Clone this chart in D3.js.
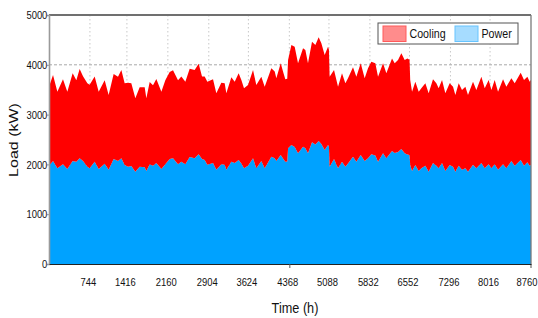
<!DOCTYPE html>
<html><head><meta charset="utf-8">
<script src="https://cdn.jsdelivr.net/npm/d3@7"></script>
<style>
html,body{margin:0;padding:0;background:#fff;}
svg{display:block;}
</style></head>
<body><svg id="chart" width="538" height="318"></svg>
<script>
// hour of year for each sample
const hours = [0,73,152,254,333,430,497,557,618,697,739,830,903,1012,1084,1175,1254,1315,1375,1436,1496,1569,1648,1739,1769,1830,1890,1951,2042,2114,2193,2254,2345,2405,2478,2557,2647,2720,2781,2829,2878,2981,3041,3132,3193,3223,3314,3375,3447,3496,3544,3617,3708,3768,3859,3920,4041,4102,4132,4211,4253,4295,4330,4345,4405,4465,4526,4617,4659,4707,4780,4841,4901,4950,5010,5071,5088,5100,5180,5253,5325,5386,5434,5525,5586,5665,5737,5798,5858,5931,5980,6071,6131,6234,6283,6343,6404,6464,6513,6552,6565,6598,6658,6719,6767,6840,6900,6979,7040,7082,7143,7203,7282,7343,7385,7446,7506,7567,7615,7706,7767,7858,7919,7991,8040,8100,8161,8252,8312,8403,8464,8573,8633,8694,8736,8760];
// Power load (kW)
const power = [1974,2069,1921,2001,1908,2069,2055,2122,2069,1955,1921,2055,1908,2015,1894,2109,2069,2122,1988,1955,1968,1854,1955,1941,1868,2001,1975,2028,1908,2001,2109,2122,2001,2055,2001,2150,2122,2202,2109,2089,1995,2028,1894,2001,1995,1894,2055,2028,2089,2020,1921,1975,2122,1921,2069,1921,2156,2122,2069,2189,2120,2055,2060,2323,2389,2350,2222,2356,2323,2222,2443,2400,2470,2410,2289,2389,2360,1955,2109,1921,2055,1955,2020,2156,2055,2189,2069,2122,2202,2180,2055,2222,2122,2269,2230,2250,2309,2222,2200,2189,1988,1868,1988,1868,1921,1975,1854,2028,1975,1921,2028,1868,1988,1955,1854,1975,1894,1921,1854,1995,1921,2028,1921,2001,1921,2001,1894,2001,1921,2069,1975,2089,1975,2042,1975,1988];
// Cooling load (kW)
const cooling = [1586,1726,1539,1709,1552,1761,1635,1793,1701,1675,1679,1710,1552,1675,1499,1706,1693,1773,1642,1685,1662,1473,1593,1607,1459,1654,1615,1687,1552,1689,1746,1768,1689,1710,1659,1770,1773,1818,1656,1676,1665,1680,1533,1639,1633,1533,1695,1632,1740,1675,1606,1620,1774,1674,1693,1640,1773,1741,1661,1840,1743,1653,1660,1773,2009,2014,1807,1974,1974,1807,2022,1998,2081,2021,1907,1975,1940,1807,1787,1640,1774,1673,1710,1794,1707,1840,1661,1807,1861,1849,1707,1807,1707,1860,1799,1846,1921,1874,1929,1911,1707,1592,1672,1592,1609,1653,1573,1680,1653,1606,1667,1559,1640,1606,1540,1653,1600,1640,1540,1665,1573,1734,1606,1694,1573,1694,1566,1707,1640,1661,1653,1753,1720,1720,1685,1712];
const xTicks = [744,1416,2160,2904,3624,4368,5088,5832,6552,7296,8016,8760];
const yTicks = [0,1000,2000,3000,4000,5000];
const seriesNames = ["Cooling","Power"];
const seriesColors = {Cooling:"#ff0000", Power:"#00a2ff"};
const legendFill = {Cooling:"#ff8c8c", Power:"#a6dcff"};
const legendStroke = {Cooling:"#ff5a5a", Power:"#66c4ff"};

const W=538,H=318, m={l:49,t:15,r:7,b:54};
const iw=W-m.l-m.r, ih=H-m.t-m.b;
const svg=d3.select("#chart");
const x=d3.scaleLinear().domain([0,8760]).range([m.l,m.l+iw]);
const y=d3.scaleLinear().domain([0,5000]).range([m.t+ih,m.t]);

const rows=hours.map((h,i)=>({h, Power:power[i], Cooling:cooling[i]}));
const stack=d3.stack().keys(["Power","Cooling"])(rows);

const font="'Liberation Sans',Arial,sans-serif";
const SX=0.82;

// grid
svg.append("g").selectAll("line").data(xTicks.slice(0,-1)).join("line")
  .attr("x1",d=>x(d)).attr("x2",d=>x(d)).attr("y1",m.t).attr("y2",m.t+ih)
  .attr("stroke","#c8c8c8").attr("stroke-width",1).attr("stroke-dasharray","1.5,2.5");
svg.append("g").selectAll("line").data(yTicks.slice(1,-1)).join("line")
  .attr("x1",m.l).attr("x2",m.l+iw).attr("y1",d=>y(d)).attr("y2",d=>y(d))
  .attr("stroke","#a8a8a8").attr("stroke-width",1).attr("stroke-dasharray","3,2");

// areas
const area=d3.area().x(d=>x(d.data.h)).y0(d=>y(d[0])).y1(d=>y(d[1]));
svg.append("g").selectAll("path").data(stack).join("path")
  .attr("d",area).attr("fill",d=>seriesColors[d.key]);

// frame
svg.append("line").attr("x1",m.l).attr("x2",m.l+iw).attr("y1",m.t).attr("y2",m.t)
  .attr("stroke","#707070").attr("stroke-width",2.2);
svg.append("line").attr("x1",m.l+iw).attr("x2",m.l+iw).attr("y1",m.t).attr("y2",m.t+ih+4)
  .attr("stroke","#7a7a7a").attr("stroke-width",1.3);

// axes
const yAxis=svg.append("g").attr("transform",`translate(${m.l},0)`)
  .call(d3.axisLeft(y).tickValues(yTicks).tickFormat(d3.format("d")).tickSize(2).tickPadding(0));
yAxis.select(".domain").attr("stroke","#9a9a9a").attr("stroke-width",1.6);
yAxis.selectAll(".tick line").attr("stroke","#9a9a9a");
yAxis.selectAll("text").attr("font-family",font).attr("font-size","11.5px").attr("fill","#111")
  .attr("transform",`scale(${SX},1)`);

const xAxis=svg.append("g").attr("transform",`translate(0,${m.t+ih})`)
  .call(d3.axisBottom(x).tickValues(xTicks).tickFormat(d3.format("d")).tickSize(0).tickPadding(14));
xAxis.select(".domain").attr("stroke","#222").attr("stroke-width",1);
xAxis.selectAll("text").attr("font-family",font).attr("font-size","11.5px").attr("fill","#111")
  .attr("x",d=>d===8760?-5.5:-2.5).attr("transform",`scale(${SX},1)`);
xAxis.selectAll(".tick").filter(d=>d===4368).append("line").attr("y1",0).attr("y2",4).attr("stroke","#555");

// titles
svg.append("text").attr("transform",`translate(295,313) scale(${SX},1)`).attr("text-anchor","middle")
  .attr("font-family",font).attr("font-size","15.5px").attr("fill","#111").text("Time (h)");
svg.append("text").attr("transform",`translate(17.5,140) scale(${SX},1) rotate(-90)`)
  .attr("text-anchor","middle").attr("font-family",font)
  .attr("font-size","16px").attr("fill","#111").text("Load (kW)");

// legend
const lg=svg.append("g");
lg.append("rect").attr("x",378).attr("y",23).attr("width",140).attr("height",21)
  .attr("fill","#fff").attr("stroke","#555").attr("stroke-width",1);
const lpos={Cooling:{sx:383,tx:409.5},Power:{sx:455,tx:481.5}};
seriesNames.forEach(n=>{
  lg.append("rect").attr("x",lpos[n].sx).attr("y",26).attr("width",23).attr("height",15.5)
    .attr("fill",legendFill[n]).attr("stroke",legendStroke[n]).attr("stroke-width",1);
  lg.append("text").attr("transform",`translate(${lpos[n].tx},37.8) scale(${SX},1)`)
    .attr("font-family",font).attr("font-size","13px").attr("fill","#111").text(n);
});
</script></body></html>
